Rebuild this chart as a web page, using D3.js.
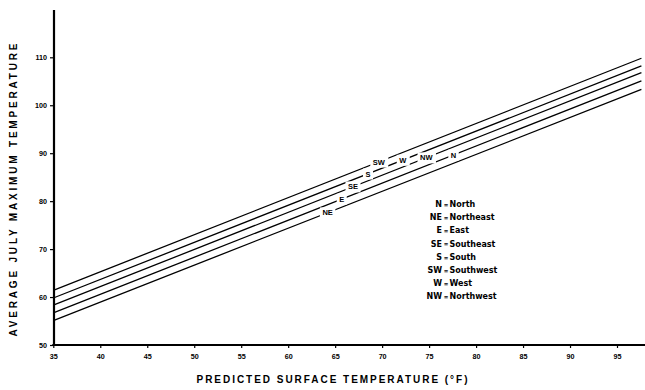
<!DOCTYPE html>
<html><head><meta charset="utf-8">
<script src="https://cdn.jsdelivr.net/npm/d3@7"></script>
<style>
html,body{margin:0;padding:0;background:#fff;}
svg{display:block;}
text{fill:#000;}
</style></head>
<body>
<svg id="c" width="645" height="390"></svg>
<script>
// ---- data ----
const xTicks = [35, 40, 45, 50, 55, 60, 65, 70, 75, 80, 85, 90, 95];
const yTicks = [50, 60, 70, 80, 90, 100, 110];
const lineX = [35, 97.6];                          // surface temperature at line ends
const lineStart = [61.4, 59.8, 58.3, 56.7, 55.1];  // value at x = 35
const lineEnd = [109.8, 108.2, 106.8, 105.1, 103.3]; // value at x = 97.6
const labelText = ["SW", "S", "W", "SE", "NW", "E", "N", "NE"];
const labelLine = [0, 1, 1, 2, 2, 3, 3, 4];
const labelX = [69.65, 68.5, 72.2, 66.9, 74.7, 65.7, 77.6, 64.2];
const legendAbbr = ["N", "NE", "E", "SE", "S", "SW", "W", "NW"];
const legendName = ["North", "Northeast", "East", "Southeast", "South", "Southwest", "West", "Northwest"];
const xTitle = "PREDICTED SURFACE TEMPERATURE (\u00b0F)";
const yTitle = "AVERAGE JULY MAXIMUM TEMPERATURE";

// ---- layout ----
const svg = d3.select("#c");
const x = d3.scaleLinear().domain([35, 95]).range([53.3, 617]);
const y = d3.scaleLinear().domain([50, 110]).range([345, 57.3]);
const F = "'Liberation Sans', Arial, sans-serif";

// lines
const lines = lineStart.map((v, i) => [[lineX[0], v], [lineX[1], lineEnd[i]]]);
const lineGen = d3.line().x(d => x(d[0])).y(d => y(d[1]));
svg.append("g").selectAll("path").data(lines).join("path")
  .attr("d", lineGen).attr("fill", "none").attr("stroke", "#000").attr("stroke-width", 1.3);

// labels on lines
const lg = svg.append("g");
labelText.forEach((t, i) => {
  const li = labelLine[i];
  const xv = labelX[i];
  const frac = (xv - lineX[0]) / (lineX[1] - lineX[0]);
  const yv = lineStart[li] + frac * (lineEnd[li] - lineStart[li]);
  const g = lg.append("g").attr("transform", `translate(${x(xv)},${y(yv)})`);
  const txt = g.append("text").text(t).attr("text-anchor", "middle").attr("dy", "0.36em")
    .attr("font-family", F).attr("font-weight", "bold").attr("font-size", 7.5);
  const bb = txt.node().getBBox();
  g.insert("rect", "text").attr("x", bb.x - 2.5).attr("y", bb.y - 1)
    .attr("width", bb.width + 5).attr("height", bb.height + 2).attr("fill", "#fff");
});

// axes
const xAxis = d3.axisBottom(x).tickValues(xTicks).tickSize(3).tickPadding(6);
const gx = svg.append("g").attr("transform", "translate(0,345)").call(xAxis);
gx.select(".domain").remove();
gx.selectAll(".tick line").attr("stroke", "#000").attr("stroke-width", 1.2);
gx.selectAll("text").attr("font-family", F).attr("font-weight", "bold").attr("font-size", 7.2);
svg.append("line").attr("x1", x(35) - 1).attr("x2", 645).attr("y1", 345).attr("y2", 345)
  .attr("stroke", "#000").attr("stroke-width", 2);

const yAxis = d3.axisLeft(y).tickValues(yTicks).tickSize(4).tickPadding(3);
const gy = svg.append("g").attr("transform", "translate(54,0)").call(yAxis);
gy.select(".domain").remove();
gy.selectAll(".tick line").attr("stroke", "#000").attr("stroke-width", 1.2);
gy.selectAll("text").attr("font-family", F).attr("font-weight", "bold").attr("font-size", 7.2);
svg.append("line").attr("x1", 54).attr("x2", 54).attr("y1", 10).attr("y2", 346)
  .attr("stroke", "#000").attr("stroke-width", 2.2);

// titles
svg.append("text").text(xTitle).attr("x", 332).attr("y", 383).attr("text-anchor", "middle")
  .attr("font-family", F).attr("font-weight", "bold").attr("font-size", 10)
  .attr("textLength", 271).attr("lengthAdjust", "spacing");
svg.append("text").text(yTitle).attr("transform", "translate(17,190) rotate(-90)")
  .attr("text-anchor", "middle")
  .attr("font-family", F).attr("font-weight", "bold").attr("font-size", 10)
  .attr("textLength", 293).attr("lengthAdjust", "spacing");

// legend
const LF = "'DejaVu Sans', sans-serif";
const leg = svg.append("g");
legendAbbr.forEach((a, i) => {
  const yy = 207 + i * 13.2;
  leg.append("text").text(a).attr("x", 442).attr("y", yy).attr("text-anchor", "end")
    .attr("font-family", LF).attr("font-weight", "bold").attr("font-size", 8);
  leg.append("text").text("=").attr("x", 446).attr("y", yy - 0.3).attr("text-anchor", "middle")
    .attr("font-family", LF).attr("font-weight", "bold").attr("font-size", 5.5);
  leg.append("text").text(legendName[i]).attr("x", 449.5).attr("y", yy)
    .attr("font-family", LF).attr("font-weight", "bold").attr("font-size", 8);
});
</script>
</body></html>
